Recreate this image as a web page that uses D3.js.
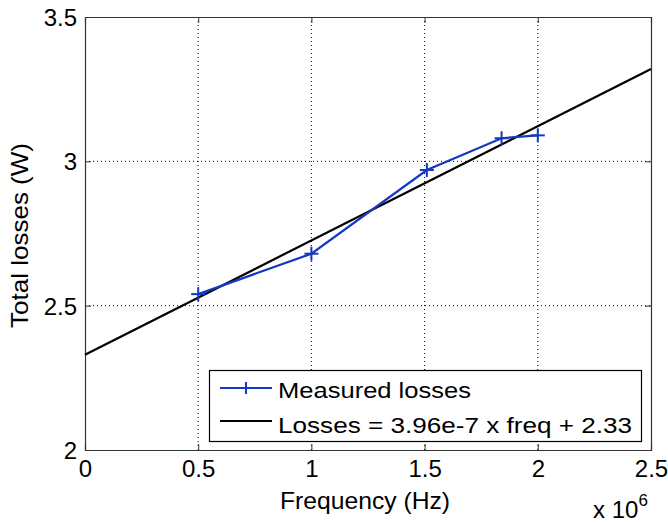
<!DOCTYPE html>
<html><head><meta charset="utf-8">
<script src="https://cdn.jsdelivr.net/npm/d3@7/dist/d3.min.js"></script>
<style>body{margin:0;background:#fff}svg{display:block}text{font-family:Arial,"Liberation Sans",sans-serif;fill:#000}</style>
</head><body>
<svg id="c" width="668" height="524"></svg>
<script>
const freqMHz = [0.5, 1.0, 1.51, 1.84, 2.0];
const measured = [2.54, 2.68, 2.97, 3.08, 3.09];
const fitSlope = 3.96e-7, fitIntercept = 2.33;
const fitX = [0, 2.5];
const xTicks = [0, 0.5, 1, 1.5, 2, 2.5];
const yTicks = [2, 2.5, 3, 3.5];
const xTickLabels = ["0", "0.5", "1", "1.5", "2", "2.5"];
const yTickLabels = ["2", "2.5", "3", "3.5"];
const legendLabels = ["Measured losses", "Losses = 3.96e-7 x freq + 2.33"];

const svg = d3.select("#c");
const L = 85, R = 651, T = 17, B = 450;
const x = d3.scaleLinear().domain([0, 2.5]).range([L, R]);
const y = d3.scaleLinear().domain([2, 3.5]).range([B, T]);
const blue = "#1638c0";
const FONT = "Arial, 'Liberation Sans', sans-serif";

// grid
const g = svg.append("g");
g.selectAll(".gx").data(xTicks.slice(1, -1)).enter().append("line")
  .attr("x1", d => x(d)).attr("x2", d => x(d)).attr("y1", T).attr("y2", B)
  .attr("stroke", "#000").attr("stroke-width", 1).attr("stroke-dasharray", "1,3");
g.selectAll(".gy").data(yTicks.slice(1, -1)).enter().append("line")
  .attr("y1", d => y(d)).attr("y2", d => y(d)).attr("x1", L).attr("x2", R)
  .attr("stroke", "#000").attr("stroke-width", 1).attr("stroke-dasharray", "1,3");

// axes with inward ticks
const xAxis = d3.axisBottom(x).tickValues(xTicks).tickSize(-6).tickFormat((d, i) => xTickLabels[i]).tickPadding(10);
const yAxis = d3.axisLeft(y).tickValues(yTicks).tickSize(-6).tickFormat((d, i) => yTickLabels[i]).tickPadding(8);
const xa = svg.append("g").attr("transform", `translate(0,${B})`).call(xAxis);
const ya = svg.append("g").attr("transform", `translate(${L},0)`).call(yAxis);
const xaTop = svg.append("g").attr("transform", `translate(0,${T})`).call(d3.axisTop(x).tickValues(xTicks).tickSize(-6).tickFormat(""));
const yaR = svg.append("g").attr("transform", `translate(${R},0)`).call(d3.axisRight(y).tickValues(yTicks).tickSize(-6).tickFormat(""));
[xa, ya, xaTop, yaR].forEach(a => {
  a.select(".domain").attr("stroke", "#333").attr("stroke-width", 1.2);
  a.selectAll(".tick line").attr("stroke", "#333");
  a.selectAll(".tick text").attr("font-size", 24).attr("font-family", FONT).attr("fill", "#000");
});
xa.selectAll(".tick text").attr("y", 27).attr("dy", null);
ya.selectAll(".tick text").attr("dy", "0.36em");

// fit line
const fitLine = d3.line().x(d => x(d)).y(d => y(fitSlope * d * 1e6 + fitIntercept));
svg.append("path").datum(fitX).attr("d", fitLine).attr("fill", "none").attr("stroke", "#000").attr("stroke-width", 2.2);

// measured
const pts = freqMHz.map((f, i) => [f, measured[i]]);
svg.append("path").datum(pts).attr("d", d3.line().x(d => x(d[0])).y(d => y(d[1])))
  .attr("fill", "none").attr("stroke", blue).attr("stroke-width", 2.2);
const mk = svg.append("g").selectAll("g").data(pts).enter().append("g")
  .attr("transform", d => `translate(${x(d[0])},${y(d[1])})`);
mk.append("line").attr("x1", -7).attr("x2", 7).attr("stroke", blue).attr("stroke-width", 2);
mk.append("line").attr("y1", -7).attr("y2", 7).attr("stroke", blue).attr("stroke-width", 2);

// legend
const lg = svg.append("g");
lg.append("rect").attr("x", 209.5).attr("y", 370.5).attr("width", 432).attr("height", 71)
  .attr("fill", "#fff").attr("stroke", "#000").attr("stroke-width", 1.2);
const rowsY = [388, 421];
const rowsBase = [398, 433];
const rowsLen = [193, 354];
lg.append("line").attr("x1", 220).attr("x2", 272).attr("y1", rowsY[0]).attr("y2", rowsY[0]).attr("stroke", blue).attr("stroke-width", 2);
lg.append("line").attr("x1", 246).attr("x2", 246).attr("y1", rowsY[0] - 6).attr("y2", rowsY[0] + 6).attr("stroke", blue).attr("stroke-width", 2);
lg.append("line").attr("x1", 220).attr("x2", 272).attr("y1", rowsY[1]).attr("y2", rowsY[1]).attr("stroke", "#000").attr("stroke-width", 2);
lg.selectAll("text").data(legendLabels).enter().append("text")
  .attr("x", 278).attr("y", (d, i) => rowsBase[i])
  .attr("font-size", 22).attr("textLength", (d, i) => rowsLen[i]).attr("lengthAdjust", "spacingAndGlyphs")
  .text(d => d);

// axis labels
svg.append("text").attr("x", 365).attr("y", 509).attr("text-anchor", "middle").attr("font-size", 24)
  .attr("textLength", 170).attr("lengthAdjust", "spacingAndGlyphs").text("Frequency (Hz)");
svg.append("text").attr("transform", "translate(28,235.5) rotate(-90)").attr("text-anchor", "middle").attr("font-size", 24)
  .attr("textLength", 185).attr("lengthAdjust", "spacingAndGlyphs").text("Total losses (W)");
const ex = svg.append("text").attr("x", 593).attr("y", 518).attr("font-size", 24);
ex.append("tspan").text("x 10");
ex.append("tspan").attr("dy", -12).attr("font-size", 17).text("6");
</script>
</body></html>
